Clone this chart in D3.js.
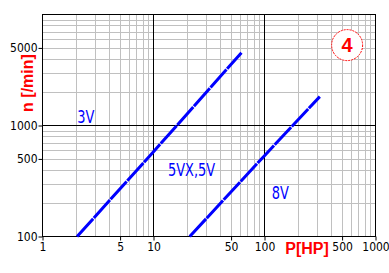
<!DOCTYPE html>
<html>
<head>
<meta charset="utf-8">
<script src="https://cdn.jsdelivr.net/npm/d3@7"></script>
<style>
  body { margin: 0; background: #fff; }
  svg { display: block; }
</style>
</head>
<body>
<div id="graph"></div>
<script>
// donnees du graphique
let xTicks = [1, 5, 10, 50, 100, 500, 1000];
let yTicks = [100, 500, 1000, 5000];
let line3V = [[2.05, 100], [10, 580], [62, 4530]];
let line5V = [[21.2, 100], [100, 535], [315, 1820]];
let labels = [
  {txt: '3V', x: 2.45, y: 1050},
  {txt: '5VX,5V', x: 22, y: 350},
  {txt: '8V', x: 139, y: 218}
];
let badge = {txt: '4', x: 555, y: 5300};

let width = 389, height = 273;
let gauche = 42.5, droite = 375.5, haut = 14.5, bas = 236.5;
let narrow = '"Liberation Sans Narrow", "DejaVu Sans Condensed", sans-serif';

let x = d3.scaleLog().domain([1, 1000]).range([gauche, droite]);
let y = d3.scaleLog().domain([100, 10000]).range([bas, haut]);

let svg = d3.select('#graph').append('svg')
    .attr('width', width)
    .attr('height', height);

// grille secondaire
let minorX = [], minorY = [];
[1, 10, 100].forEach(function(d){ for (let k = 2; k <= 9; k++) minorX.push(d * k); });
[100, 1000].forEach(function(d){ for (let k = 2; k <= 9; k++) minorY.push(d * k); });

svg.append('g').selectAll('line').data(minorX).enter().append('line')
    .attr('x1', d => Math.round(x(d)) + 0.5).attr('x2', d => Math.round(x(d)) + 0.5)
    .attr('y1', haut).attr('y2', bas)
    .attr('stroke', '#c0c0c0');
svg.append('g').selectAll('line').data(minorY).enter().append('line')
    .attr('y1', d => Math.round(y(d)) + 0.5).attr('y2', d => Math.round(y(d)) + 0.5)
    .attr('x1', gauche).attr('x2', droite)
    .attr('stroke', '#c0c0c0');

// lignes des decades
svg.append('g').selectAll('line').data([10, 100]).enter().append('line')
    .attr('x1', d => x(d)).attr('x2', d => x(d))
    .attr('y1', haut).attr('y2', bas)
    .attr('stroke', '#000');
svg.append('g').selectAll('line').data([1000]).enter().append('line')
    .attr('y1', d => y(d)).attr('y2', d => y(d))
    .attr('x1', gauche).attr('x2', droite)
    .attr('stroke', '#000');

svg.append('rect')
    .attr('x', gauche).attr('y', haut)
    .attr('width', droite - gauche).attr('height', bas - haut)
    .attr('fill', 'none').attr('stroke', '#000');

// axes
let xAxis = svg.append('g')
    .attr('transform', 'translate(0,' + bas + ')')
    .call(d3.axisBottom(x).tickValues(xTicks).tickFormat(d3.format('d')).tickSize(4).tickPadding(2));
let yAxis = svg.append('g')
    .attr('transform', 'translate(' + gauche + ',0)')
    .call(d3.axisLeft(y).tickValues(yTicks).tickFormat(d3.format('d')).tickSize(4).tickPadding(1));
[xAxis, yAxis].forEach(function(a){
  a.select('.domain').remove();
  a.selectAll('line').attr('stroke', '#000');
  a.selectAll('text').attr('fill', '#000').style('font-family', narrow).style('font-size', '12px');
});

// courbes
let lineGen = d3.line().x(d => x(d[0])).y(d => y(d[1]));
[line3V, line5V].forEach(function(s){
  svg.append('path')
      .attr('d', lineGen(s))
      .attr('fill', 'none')
      .attr('stroke', '#0000ff')
      .attr('stroke-width', 3)
      .attr('stroke-dasharray', '24,1');
});

// etiquettes
labels.forEach(function(l){
  svg.append('text')
      .attr('transform', 'translate(' + x(l.x) + ',' + y(l.y) + ') scale(0.8,1)')
      .attr('text-anchor', 'middle')
      .attr('fill', '#0000ff')
      .style('font-family', narrow)
      .style('font-size', '18px')
      .text(l.txt);
});

// titres des axes
svg.append('text')
    .attr('transform', 'translate(33,83) rotate(-90)')
    .attr('text-anchor', 'middle')
    .attr('fill', '#ff0000')
    .style('font-family', 'Liberation Sans, Arial, sans-serif')
    .style('font-weight', 'bold')
    .style('font-size', '16px')
    .text('n [/min]');
svg.append('text')
    .attr('x', 307).attr('y', 254)
    .attr('text-anchor', 'middle')
    .attr('fill', '#ff0000')
    .style('font-family', 'Liberation Sans, Arial, sans-serif')
    .style('font-weight', 'bold')
    .style('font-size', '16px')
    .text('P[HP]');

// pastille
svg.append('circle')
    .attr('cx', x(badge.x)).attr('cy', y(badge.y)).attr('r', 15.5)
    .attr('fill', '#fff')
    .attr('stroke', '#ff0000')
    .attr('stroke-dasharray', '2,1');
svg.append('text')
    .attr('x', x(badge.x)).attr('y', y(badge.y) + 7)
    .attr('text-anchor', 'middle')
    .attr('fill', '#ff0000')
    .style('font-family', 'Liberation Sans, Arial, sans-serif')
    .style('font-weight', 'bold')
    .style('font-size', '20px')
    .text(badge.txt);
</script>
</body>
</html>
